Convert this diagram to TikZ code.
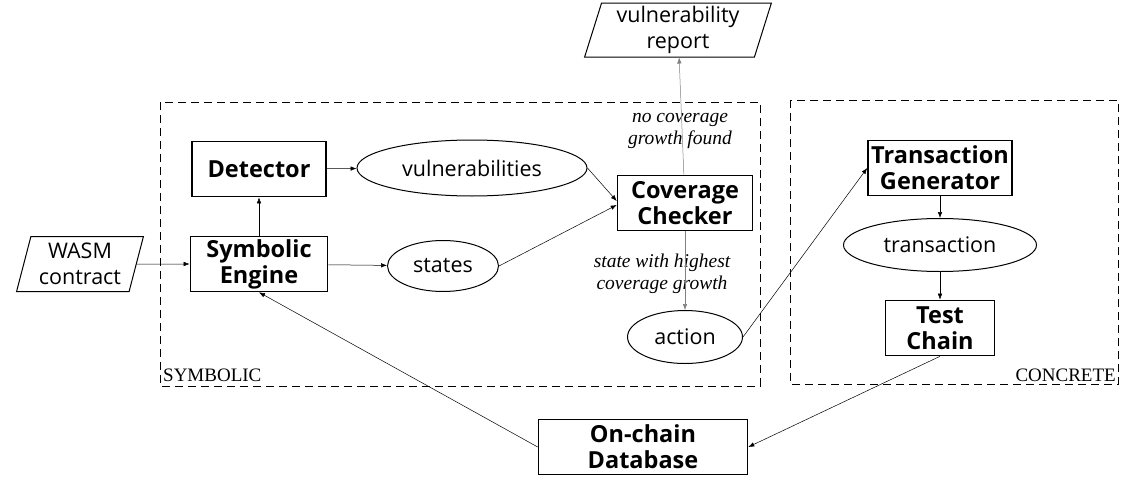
\documentclass[tikz,border=0pt]{standalone}
\usepackage{fontspec}
\setmainfont{Open Sans}
\newfontfamily\notefont{Liberation Serif}
\usetikzlibrary{shapes.geometric,arrows.meta}

\begin{document}
\begin{tikzpicture}[x=1pt, y=-1pt,
    box/.style={rectangle, draw, line width=1.6pt, inner sep=0pt, align=center,
      font=\fontsize{23.5}{26}\selectfont\bfseries},
    data/.style={ellipse, draw, line width=1pt, inner sep=0pt,
      font=\fontsize{21.5}{26}\selectfont},
    io/.style={trapezium, trapezium left angle=74, trapezium right angle=106,
      trapezium stretches=true, draw, line width=1pt, inner sep=0pt, align=center,
      font=\fontsize{21.5}{26}\selectfont},
    flow/.style={-{Latex[length=6pt,width=4.5pt]}, line width=0.5pt},
    area/.style={draw, line width=0.9pt, dash pattern=on 8pt off 5pt},
    note/.style={align=center, font=\notefont\itshape\fontsize{19.5}{21.5}\selectfont}]
  \useasboundingbox (0,0) rectangle (1121,479);

  % the two halves
  \draw[area] (160,102) rectangle (760,386);
  \draw[area] (790,100) rectangle (1118,384);
  \node (SY) [anchor=south west, inner sep=1pt, font=\notefont\fontsize{19}{20}\selectfont] at (162,383) {SYMBOLIC};
  \node (CO) [anchor=south east, inner sep=1pt, font=\notefont\fontsize{19}{20}\selectfont] at (1117,383) {CONCRETE};

  % symbolic part
  \node (WC) [io, minimum width=127pt, minimum height=55pt] at (80,264) {WASM\\contract};
  \node (SE) [box, minimum width=137pt, minimum height=55pt] at (259,264) {Symbolic\\Engine};
  \node (DT) [box, minimum width=134pt, minimum height=55pt] at (259,169) {Detector};
  \node (VU) [data, minimum width=230pt, minimum height=56pt] at (472,168) {vulnerabilities};
  \node (ST) [data, minimum width=111pt, minimum height=51pt] at (443,266) {states};
  \node (CC) [box, minimum width=135pt, minimum height=55pt] at (685,203) {Coverage\\Checker};
  \node (VR) [io, minimum width=187pt, minimum height=54pt] at (678,30) {vulnerability\\report};
  \node (AC) [data, minimum width=115pt, minimum height=53pt] at (685,337) {action};

  % concrete part
  \node (TG) [box, minimum width=144pt, minimum height=55pt] at (940,168) {Transaction\\Generator};
  \node (TR) [data, minimum width=193pt, minimum height=53pt] at (940,245) {transaction};
  \node (TC) [box, minimum width=109pt, minimum height=55pt] at (940,328) {Test\\Chain};
  \node (DB) [box, minimum width=209pt, minimum height=55pt] at (643,447) {On-chain\\Database};

  \node (N1) [note] at (680,131) {no coverage\\growth found};
  \node (N2) [note] at (662,274) {state with highest\\coverage growth};

  \draw[flow] (WC) -- (SE);
  \draw[flow] (SE) -- (DT);
  \draw[flow] (DT) -- (VU);
  \draw[flow] (SE) -- (ST);
  \draw[flow] (VU.east) -- ([yshift=2pt]CC.west);
  \draw[flow] (ST.east) -- ([yshift=-2pt]CC.west);
  \draw[flow, gray] (CC) -- (VR);
  \draw[flow, gray] (CC) -- (AC);
  \draw[flow] (AC.east) -- (TG.west);
  \draw[flow] (TG) -- (TR);
  \draw[flow] (TR) -- (TC);
  \draw[flow] (TC.south) -- (DB.east);
  \draw[flow] (DB.west) -- (SE.south);
\end{tikzpicture}
\end{document}
